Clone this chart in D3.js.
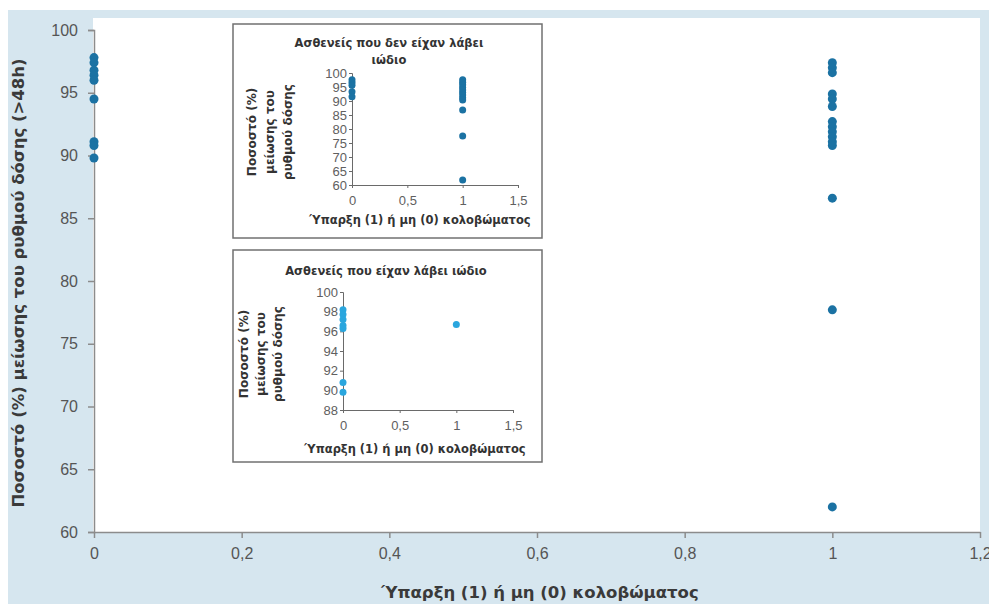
<!DOCTYPE html>
<html>
<head>
<meta charset="utf-8">
<script src="https://cdn.jsdelivr.net/npm/d3@7"></script>
<style>
  body { margin: 0; background: #fff; }
  svg { display: block; font-family: "Liberation Sans", Arial, sans-serif; }
</style>
</head>
<body>
<div id="chart"></div>
<script>
// main chart values (x = 0 no coloboma, x = 1 coloboma)
var mainX0 = [97.8, 97.4, 96.8, 96.4, 96.0, 94.5, 91.1, 90.8, 89.8];
var mainX1 = [97.4, 97.0, 96.6, 94.9, 94.5, 93.9, 92.7, 92.3, 91.9, 91.5, 91.1, 90.8, 86.6, 77.7, 62.0];
var mainXTicks = [0, 0.2, 0.4, 0.6, 0.8, 1, 1.2];
var mainYTicks = [60, 65, 70, 75, 80, 85, 90, 95, 100];

// inset 1: no iodine
var noIodX0 = [97.6, 96.6, 95.6, 93.3, 91.5];
var noIodX1 = [97.6, 96.7, 95.8, 94.8, 93.9, 93.0, 92.1, 91.2, 90.4, 86.8, 77.5, 61.8];
var noIodYTicks = [60, 65, 70, 75, 80, 85, 90, 95, 100];

// inset 2: iodine
var iodX0 = [98.2, 97.7, 97.2, 96.6, 96.3, 90.8, 89.8];
var iodX1 = [96.7];
var iodYTicks = [88, 90, 92, 94, 96, 98, 100];

var insetXTicks = [0, 0.5, 1, 1.5];

var yTitle = "Ποσοστό (%) μείωσης του ρυθμού δόσης (>48h)";
var xTitle = "Ύπαρξη (1) ή μη (0) κολοβώματος";
var insetYTitle = ["Ποσοστό (%)", "μείωσης του", "ρυθμού δόσης"];

var W = 989, H = 604;
var titleFont = "DejaVu Sans, Verdana, sans-serif";
var comma = function(d) { return String(d).replace(".", ","); };

var svg = d3.select("#chart").append("svg")
    .attr("width", W)
    .attr("height", H);

svg.append("rect").attr("x", 8).attr("y", 10).attr("width", W - 8).attr("height", H - 10)
    .attr("fill", "#d6e6ef");

////////////////////// main plot //////////////////////
var x = d3.scaleLinear().domain([0, 1.2]).range([94, 980]);
var y = d3.scaleLinear().domain([60, 100]).range([532, 30]);

svg.append("rect").attr("x", 93).attr("y", 18).attr("width", 980 - 93).attr("height", 532 - 18)
    .attr("fill", "#ffffff");

var yAxisG = svg.append("g")
    .attr("transform", "translate(" + x(0) + ",0)")
    .call(d3.axisLeft(y).tickValues(mainYTicks).tickSize(6).tickSizeOuter(6));

var xAxisG = svg.append("g")
    .attr("transform", "translate(0," + y(60) + ")")
    .call(d3.axisBottom(x).tickValues(mainXTicks).tickFormat(comma).tickSize(6).tickSizeOuter(0));

[yAxisG, xAxisG].forEach(function(g) {
  g.selectAll("path, line").attr("stroke", "#8c8c8c").attr("stroke-width", 1.5);
  g.selectAll("text").attr("fill", "#555").attr("font-size", 16).attr("font-family", "Liberation Sans, Arial, sans-serif");
});
yAxisG.selectAll("text").attr("x", -16);
xAxisG.selectAll("text").attr("y", 16);

svg.append("text")
    .attr("transform", "translate(24," + ((y(60) + y(100)) / 2 + 2) + ") rotate(-90)")
    .attr("text-anchor", "middle")
    .attr("font-family", titleFont)
    .attr("font-size", 16.5)
    .attr("font-weight", "bold")
    .attr("fill", "#3a3a3a")
    .text(yTitle);

svg.append("text")
    .attr("x", 540).attr("y", 598)
    .attr("text-anchor", "middle")
    .attr("font-family", titleFont)
    .attr("font-size", 16.5)
    .attr("font-weight", "bold")
    .attr("fill", "#3a3a3a")
    .text(xTitle);

var mainPts = mainX0.map(function(v) { return {x: 0, v: v}; })
    .concat(mainX1.map(function(v) { return {x: 1, v: v}; }));

svg.selectAll(".main_dot")
    .data(mainPts)
    .enter()
    .append("circle")
    .attr("class", "main_dot")
    .attr("cx", function(d) { return x(d.x); })
    .attr("cy", function(d) { return y(d.v); })
    .attr("r", 4.5)
    .attr("fill", "#1b72a3");

////////////////////// insets //////////////////////
function drawInset(cfg) {
  var g = svg.append("g");
  g.append("rect")
      .attr("x", cfg.box[0]).attr("y", cfg.box[1])
      .attr("width", cfg.box[2] - cfg.box[0]).attr("height", cfg.box[3] - cfg.box[1])
      .attr("fill", "#ffffff")
      .attr("stroke", "#707070")
      .attr("stroke-width", 1.5);

  var ix = d3.scaleLinear().domain([0, 1.5]).range(cfg.xr);
  var iy = d3.scaleLinear().domain(cfg.yd).range(cfg.yr);

  var ya = g.append("g")
      .attr("transform", "translate(" + ix(0) + ",0)")
      .call(d3.axisLeft(iy).tickValues(cfg.yTicks).tickSize(3).tickSizeOuter(3));
  var xa = g.append("g")
      .attr("transform", "translate(0," + iy(cfg.yd[0]) + ")")
      .call(d3.axisBottom(ix).tickValues(insetXTicks).tickFormat(comma).tickSize(3).tickSizeOuter(0));

  [ya, xa].forEach(function(a) {
    a.selectAll("path, line").attr("stroke", "#6a6a6a").attr("stroke-width", 1);
    a.selectAll("text").attr("fill", "#606060").attr("font-size", 13).attr("font-family", "Liberation Sans, Arial, sans-serif");
  });
  ya.selectAll("text").attr("x", -5);
  xa.selectAll("text").attr("y", 11);

  cfg.title.forEach(function(t, i) {
    g.append("text")
        .attr("x", cfg.titleX).attr("y", cfg.titleY + i * 17)
        .attr("text-anchor", "middle")
        .attr("font-family", titleFont)
        .attr("font-size", 11.5)
        .attr("font-weight", "bold")
        .attr("fill", "#333")
        .text(t);
  });

  insetYTitle.forEach(function(t, i) {
    g.append("text")
        .attr("transform", "translate(" + (cfg.ytX + i * cfg.ytStep) + "," + cfg.ytY + ") rotate(-90)")
        .attr("text-anchor", "middle")
        .attr("font-family", titleFont)
        .attr("font-size", 12)
        .attr("font-weight", "bold")
        .attr("fill", "#333")
        .text(t);
  });

  g.append("text")
      .attr("x", cfg.xtX).attr("y", cfg.xtY)
      .attr("text-anchor", "middle")
      .attr("font-family", titleFont)
      .attr("font-size", 11.5)
      .attr("font-weight", "bold")
      .attr("fill", "#333")
      .text(xTitle);

  var pts = cfg.x0.map(function(v) { return {x: 0, v: v}; })
      .concat(cfg.x1.map(function(v) { return {x: 1, v: v}; }));

  g.selectAll(".inset_dot")
      .data(pts)
      .enter()
      .append("circle")
      .attr("class", "inset_dot")
      .attr("cx", function(d) { return ix(d.x); })
      .attr("cy", function(d) { return iy(d.v); })
      .attr("r", 3.5)
      .attr("fill", cfg.color);
}

drawInset({
  box: [233, 24, 542, 238],
  xr: [352, 518], yd: [60, 100], yr: [185, 73], yTicks: noIodYTicks,
  title: ["Ασθενείς που δεν είχαν λάβει", "ιώδιο"], titleX: 389, titleY: 47,
  ytX: 256, ytStep: 18, ytY: 132, xtX: 420, xtY: 224,
  x0: noIodX0, x1: noIodX1, color: "#1b72a3"
});

drawInset({
  box: [233, 250, 542, 462],
  xr: [343, 513], yd: [88, 100], yr: [410, 292], yTicks: iodYTicks,
  title: ["Ασθενείς που είχαν λάβει ιώδιο"], titleX: 386, titleY: 275,
  ytX: 248, ytStep: 17, ytY: 354, xtX: 415, xtY: 453,
  x0: iodX0, x1: iodX1, color: "#2aa6de"
});
</script>
</body>
</html>
